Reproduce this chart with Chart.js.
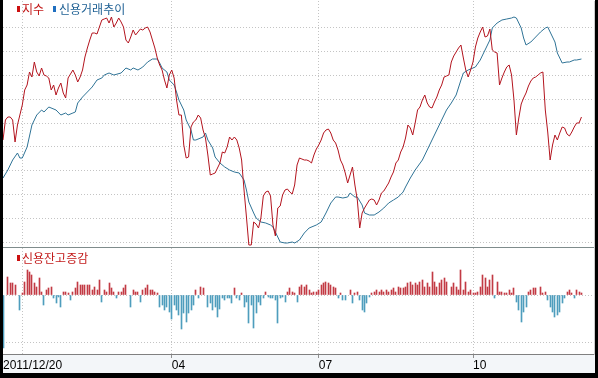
<!DOCTYPE html>
<html><head><meta charset="utf-8">
<script src="https://cdn.jsdelivr.net/npm/chart.js@4.4.1/dist/chart.umd.min.js"></script>
<style>
html,body{margin:0;padding:0;background:#000;width:598px;height:378px;overflow:hidden;}
#wrap{position:absolute;left:3px;top:0;width:592px;height:373px;background:#fff;overflow:hidden;}
#top{position:absolute;left:0;top:0;width:592px;height:248px;}
#bot{position:absolute;left:0;top:248px;width:592px;height:125px;}
#band{position:absolute;left:0;top:355px;width:592px;height:18px;background:#f3f6f9;}
.mk{position:absolute;width:3px;height:6px;}
.lt{position:absolute;font-family:"Noto Sans CJK KR";font-size:12px;line-height:14px;white-space:nowrap;}
</style></head>
<body>
<div id="wrap">
  <div id="band"></div>
  <div id="top"><canvas id="c1"></canvas></div>
  <div id="bot"><canvas id="c2"></canvas></div>
  <div class="mk" style="left:14px;top:6px;background:#cc1010"></div>
  <div class="lt" style="left:19px;top:2px;color:#c21a1a">지수</div>
  <div class="mk" style="left:50px;top:6px;background:#1f6fc0"></div>
  <div class="lt" style="left:56px;top:2px;color:#1d5f93">신용거래추이</div>
  <div class="mk" style="left:14px;top:255px;background:#cc1010"></div>
  <div class="lt" style="left:19px;top:251px;color:#c21a1a">신용잔고증감</div>
</div>
<script>
// 지수 (index), one value per trading day starting 2011/12/20 (day 0)
const indexValues = [
1867,1887,1890,1890,1887,1865,1882,1892,1902,1917,
1922,1935,1930,1945,1935,1931,1939,1932,1931,1929,
1917,1922,1912,1919,1924,1914,1909,1929,1933,1937,
1932,1925,1930,1937,1950,1959,1967,1974,1974,1973,
1980,1987,1988,1989,1984,1990,1980,1984,1989,1985,
1980,1967,1964,1970,1977,1972,1975,1978,1977,1979,
1980,1975,1967,1959,1949,1942,1937,1927,1919,1932,
1937,1929,1907,1892,1892,1862,1849,1850,1880,1885,
1887,1892,1889,1877,1869,1852,1832,1833,1834,1839,
1844,1855,1854,1860,1870,1867,1870,1867,1859,1847,
1817,1790,1762,1762,1785,1783,1779,1789,1811,1815,
1816,1811,1782,1771,1799,1801,1812,1817,1818,1815,
1813,1822,1842,1849,1848,1847,1847,1846,1844,1852,
1858,1862,1867,1874,1877,1878,1874,1867,1864,1857,
1847,1842,1834,1824,1832,1840,1822,1807,1779,1794,
1799,1803,1807,1808,1807,1802,1807,1814,1816,1820,
1824,1830,1835,1844,1847,1855,1860,1869,1882,1879,
1872,1884,1897,1900,1907,1912,1904,1900,1899,1905,
1910,1917,1922,1930,1931,1932,1945,1951,1955,1959,
1962,1949,1937,1930,1937,1945,1960,1969,1975,1980,
1970,1971,1978,1957,1955,1954,1922,1929,1935,1940,
1942,1932,1907,1872,1889,1903,1909,1914,1921,1926,
1929,1930,1932,1934,1935,1897,1875,1847,1862,1872,
1867,1874,1880,1879,1873,1871,1875,1880,1884,1884,
1890
];
// 신용거래추이 (credit trading trend)
const creditDays = [0,2,4,6,7,8,10,12,14,16,17,19,22,24,26,27,29,30,31,33,35,37,39,41,42,44,46,49,51,53,54,56,58,60,62,64,65,66,68,69,71,72,73,75,76,78,79,80,83,84,85,87,88,90,92,94,96,98,100,101,102,104,105,107,109,111,112,114,115,117,118,120,121,123,125,127,130,132,134,136,138,139,141,143,144,146,147,149,150,152,154,156,158,160,162,164,166,167,169,171,174,176,178,180,182,184,186,188,190,191,193,195,196,198,200,202,203,205,207,209,211,212,213,215,216,217,219,221,223,225,226,227,229,230,232,234,235,237,238,240];
const creditValues = [5.19,5.27,5.37,5.44,5.39,5.39,5.50,5.72,5.82,5.87,5.85,5.90,5.87,5.82,5.84,5.82,5.84,5.85,5.94,6.00,6.05,6.10,6.17,6.19,6.22,6.24,6.22,6.24,6.29,6.27,6.29,6.27,6.30,6.35,6.38,6.38,6.34,6.29,6.25,6.17,6.12,6.05,5.97,5.87,5.77,5.67,5.57,5.57,5.60,5.64,5.57,5.49,5.40,5.34,5.30,5.27,5.25,5.24,5.17,5.07,4.95,4.84,4.79,4.75,4.74,4.72,4.70,4.60,4.55,4.54,4.54,4.55,4.54,4.57,4.64,4.69,4.72,4.75,4.84,4.94,5.00,5.00,4.99,5.00,5.04,5.00,5.00,4.92,4.84,4.82,4.82,4.85,4.89,4.94,4.97,5.00,5.05,5.10,5.19,5.27,5.37,5.47,5.57,5.67,5.77,5.87,5.94,6.02,6.17,6.24,6.27,6.29,6.30,6.37,6.47,6.57,6.69,6.74,6.77,6.78,6.79,6.80,6.79,6.69,6.59,6.52,6.55,6.60,6.65,6.69,6.70,6.65,6.55,6.44,6.34,6.35,6.35,6.37,6.37,6.38];
// 신용잔고증감 (credit balance change), one value per trading day, null = no bar
const changeValues = [
-1060,null,360,240,240,200,null,-300,40,260,
500,460,400,240,160,340,60,-200,100,140,
160,-60,-160,-40,-240,60,60,40,-100,60,
140,260,200,200,200,200,200,100,160,100,
300,-140,100,60,240,140,60,-60,60,60,
140,200,null,-240,100,60,60,-140,100,140,
200,100,100,60,40,-240,-200,-300,-240,-340,
-480,-200,-300,-400,-680,-360,-540,-360,-300,-200,
100,-60,160,140,null,-240,-160,-300,-240,-440,
-280,-60,-100,-60,-60,-160,140,-60,-100,40,
-240,-140,-560,-200,-660,-360,-140,-200,-60,60,
-40,-60,-60,-100,-560,-60,-40,-140,60,140,
60,40,-140,160,200,160,200,100,40,60,
60,100,200,240,260,240,200,160,140,-60,
40,-100,-100,null,100,-160,40,60,-100,-300,
-340,-160,-40,40,60,100,60,100,60,100,
60,100,140,60,160,140,140,160,240,260,
200,240,200,260,300,160,240,160,460,260,
160,240,300,340,260,null,160,240,160,100,
500,100,260,60,100,40,40,60,160,400,
340,160,300,400,-60,260,60,60,40,40,
100,40,140,-140,-300,-540,-340,-240,60,100,
140,140,null,160,40,60,-100,-240,-340,-440,
-400,-340,-160,-60,60,100,40,-60,100,60,
40
];
// x-axis ticks (trading-day index) and labels
const tickDays = [0, 8, 70, 131, 195];
const tickLabels = ['2011/12/20', '', '04', '07', '10'];

const GRID = '#c4c4c4';
const xMax = 245.2;
function xTicks(ax){ ax.ticks = tickDays.map(v => ({value: v})); }

// keep 1px bars on whole device pixels so they stay crisp
const snapBars = { id: 'snapBars', afterDatasetsUpdate(chart){
  chart.getDatasetMeta(0).data.forEach(el => { el.x = Math.floor(el.x) + 0.5; });
}};

new Chart(document.getElementById('c1'), {
  type: 'line',
  data: { datasets: [
    { label: '지수', data: indexValues.map((v, i) => ({x: i, y: v})), borderColor: '#b3141e', borderWidth: 1, pointRadius: 0, tension: 0, yAxisID: 'y' },
    { label: '신용거래추이', data: creditDays.map((d, i) => ({x: d, y: creditValues[i]})), borderColor: '#2f7396', borderWidth: 1, pointRadius: 0, tension: 0, yAxisID: 'y2' }
  ]},
  options: {
    responsive: true, maintainAspectRatio: false, animation: false, events: [],
    layout: { padding: { top: 1, left: 0, right: 1, bottom: 0 } },
    plugins: { legend: { display: false }, tooltip: { enabled: false } },
    scales: {
      x: { type: 'linear', min: 0, max: xMax, afterBuildTicks: xTicks,
           ticks: { display: false },
           grid: { color: c => c.index === 0 ? 'rgba(0,0,0,0)' : GRID, drawTicks: false },
           border: { display: true, color: '#7f8c8c', dash: [1, 2] },
           afterFit: s => { s.height = 1; } },
      y: { position: 'right', min: 1760, max: 2006,
           afterBuildTicks: ax => { ax.ticks = []; for (let k = 0; k < 10; k++) ax.ticks.push({value: 1765 + 23.8 * k}); },
           ticks: { display: false },
           grid: { color: GRID, drawTicks: false },
           border: { display: true, color: '#cccccc', dash: [1, 2] },
           afterFit: s => { s.width = 0; } },
      y2: { position: 'right', display: false, min: 4.50, max: 6.96 }
    }
  }
});

new Chart(document.getElementById('c2'), {
  type: 'bar',
  data: { datasets: [
    { label: '신용잔고증감', data: changeValues.map((v, i) => ({x: i, y: v})).filter(p => p.y !== null),
      backgroundColor: c => (c.raw && c.raw.y < 0) ? '#4e9dbd' : '#c23a44', barThickness: 1, borderWidth: 0 }
  ]},
  plugins: [snapBars],
  options: {
    responsive: true, maintainAspectRatio: false, animation: false, events: [],
    layout: { padding: { top: 0, left: 0, right: 1, bottom: 0 } },
    plugins: { legend: { display: false }, tooltip: { enabled: false } },
    scales: {
      x: { type: 'linear', min: 0, max: xMax, offset: false, afterBuildTicks: xTicks,
           ticks: { autoSkip: false, maxRotation: 0, align: 'start', padding: 0, color: '#000',
                    font: { family: 'Liberation Sans', size: 12 }, callback: (v, i) => tickLabels[i] },
           grid: { offset: false, color: c => c.index === 0 ? 'rgba(0,0,0,0)' : GRID,
                   tickColor: c => c.index <= 1 ? 'rgba(0,0,0,0)' : '#909090', tickLength: 4, drawTicks: true },
           border: { display: true, color: '#808080', dash: [1, 2] },
           afterFit: s => { s.height = 19; } },
      y: { position: 'right', min: -1180, max: 940,
           afterBuildTicks: ax => { ax.ticks = [{value: -940}, {value: 0}]; },
           ticks: { display: false },
           grid: { color: GRID, drawTicks: false },
           border: { display: true, color: '#cccccc', dash: [1, 2] },
           afterFit: s => { s.width = 0; } }
    }
  }
});
</script>
</body></html>
